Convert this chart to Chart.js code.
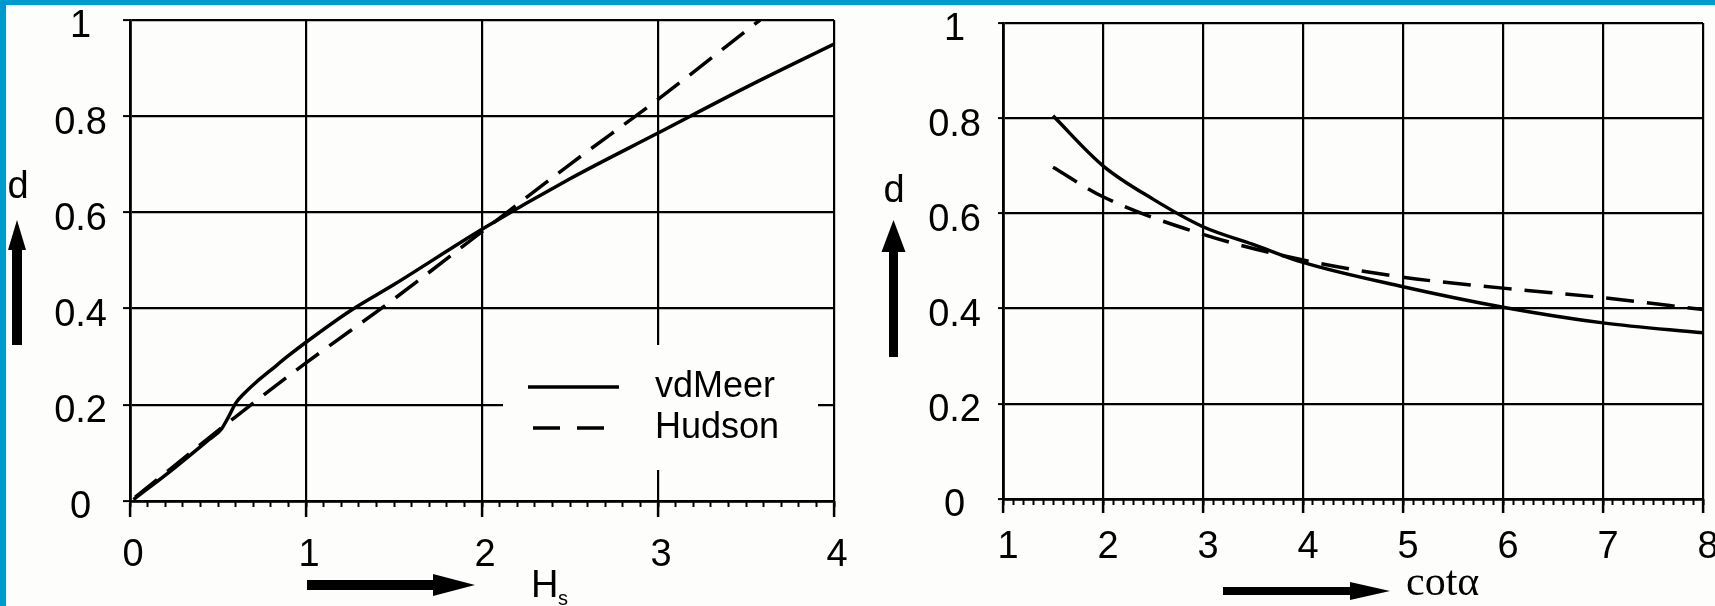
<!DOCTYPE html>
<html>
<head>
<meta charset="utf-8">
<script src="https://cdn.jsdelivr.net/npm/chart.js@4.4.1/dist/chart.umd.min.js"></script>
<style>
  html, body { margin: 0; padding: 0; }
  body { width: 1715px; height: 606px; background: #fdfdfb; position: relative; overflow: hidden; }
  .edge-top { position: absolute; left: 0; top: 0; width: 1715px; height: 5px; background: #0099cc; z-index: 2; }
  .edge-left { position: absolute; left: 0; top: 0; width: 6px; height: 606px; background: #0099cc; z-index: 2; }
  #left { position: absolute; left: 0; top: 0; }
  #right { position: absolute; left: 870px; top: 0; }
</style>
</head>
<body>
<div class="edge-top"></div>
<div class="edge-left"></div>
<canvas id="left" width="870" height="606"></canvas>
<canvas id="right" width="845" height="606"></canvas>
<script>

// Data

// left panel: d against Hs
const hsVdMeer  = [0.02, 0.25, 0.45, 0.52, 0.56, 0.6, 0.65, 0.72, 0.8, 0.9, 1.0, 1.25, 1.5, 2.0, 2.5, 3.0, 3.5, 4.0];
const dVdMeerHs = [0.003, 0.068, 0.128, 0.15, 0.175, 0.203, 0.224, 0.248, 0.272, 0.302, 0.33, 0.395, 0.45, 0.565, 0.67, 0.765, 0.86, 0.95];
const hsHudson  = [0.03, 0.6, 1.0, 1.5, 2.0, 2.5, 3.0, 3.58];
const dHudsonHs = [0.008, 0.175, 0.287, 0.42, 0.56, 0.70, 0.835, 1.0];

// right panel: d against cot(alpha)
const cotVdMeer  = [1.5, 2, 2.5, 3, 3.5, 4, 5, 6, 7, 8];
const dVdMeerCot = [0.805, 0.70, 0.63, 0.572, 0.535, 0.497, 0.446, 0.403, 0.37, 0.349];
const cotHudson  = [1.5, 2, 3, 4, 5, 6, 7, 8];
const dHudsonCot = [0.697, 0.635, 0.556, 0.502, 0.466, 0.443, 0.423, 0.398];

// tick labels
const hsTicks  = [0, 1, 2, 3, 4];
const cotTicks = [1, 2, 3, 4, 5, 6, 7, 8];
const dTicks   = [0, 0.2, 0.4, 0.6, 0.8, 1];
const dTickLabels = ["0", "0.2", "0.4", "0.6", "0.8", "1"];

const seriesNames = ["vdMeer", "Hudson"];

const SANS = "'Liberation Sans', Arial, sans-serif";
const SERIF = "'Liberation Serif', 'Times New Roman', serif";

const pairs = (xs, ys) => xs.map((x, i) => ({ x: x, y: ys[i] }));


// Legend box drawn inside the plot (left panel only)

const legendBox = {
    id: "legendBox",
    beforeDatasetsDraw(chart, args, opts) {
        if (!opts.show) return;
        const ctx = chart.ctx;
        ctx.save();
        ctx.fillStyle = "#fdfdfb";
        ctx.fillRect(503, 345, 315, 125);
        chart.data.datasets.forEach((ds, i) => {
            const y = 387 + i * 41;
            ctx.strokeStyle = ds.borderColor;
            ctx.lineWidth = ds.borderWidth;
            ctx.setLineDash(ds.borderDash ? [27, 17] : []);
            ctx.beginPath();
            ctx.moveTo(i ? 533 : 528, y);
            ctx.lineTo(i ? 609 : 619, y);
            ctx.stroke();
            ctx.setLineDash([]);
            ctx.fillStyle = "#000";
            ctx.font = "36px " + SANS;
            ctx.textBaseline = "middle";
            ctx.fillText(ds.label, 655, y);
        });
        ctx.restore();
    }
};


// Fat arrows + axis names outside the plot

function arrow(ctx, x1, y1, x2, y2, shaft, headLen, headW) {
    const ang = Math.atan2(y2 - y1, x2 - x1);
    const len = Math.hypot(x2 - x1, y2 - y1);
    ctx.save();
    ctx.translate(x1, y1);
    ctx.rotate(ang);
    ctx.fillStyle = "#000";
    ctx.fillRect(0, -shaft / 2, len - headLen + 1, shaft);
    ctx.beginPath();
    ctx.moveTo(len - headLen, -headW / 2);
    ctx.lineTo(len, 0);
    ctx.lineTo(len - headLen, headW / 2);
    ctx.closePath();
    ctx.fill();
    ctx.restore();
}

const axisArrows = {
    id: "axisArrows",
    afterDraw(chart, args, o) {
        const ctx = chart.ctx;
        arrow(ctx, o.yArrow[0], o.yArrow[1], o.yArrow[0], o.yArrow[2], o.yArrow[3], o.yArrow[4], o.yArrow[5]);
        arrow(ctx, o.xArrow[0], o.xArrow[2], o.xArrow[1], o.xArrow[2], o.xArrow[3], o.xArrow[4], o.xArrow[5]);
        ctx.save();
        ctx.fillStyle = "#000";
        ctx.textBaseline = "alphabetic";
        ctx.font = "38px " + SANS;
        ctx.textAlign = "center";
        ctx.fillText("d", o.dPos[0], o.dPos[1]);
        ctx.textAlign = "left";
        if (o.hs) {
            ctx.fillText("H", o.hs[0], o.hs[1]);
            ctx.font = "20px " + SANS;
            ctx.fillText("s", o.hs[0] + 27, o.hs[1] + 8);
        }
        if (o.cot) {
            ctx.font = "42px " + SERIF;
            ctx.fillText("cotα", o.cot[0], o.cot[1]);
        }
        ctx.restore();
    }
};


function makeChart(canvas, c) {
    return new Chart(canvas, {
        type: "scatter",
        data: {
            datasets: [
                {
                    label: seriesNames[0],
                    data: c.solid,
                    xAxisID: "x",
                    showLine: true,
                    borderColor: "#000",
                    borderWidth: 3.5,
                    pointRadius: 0,
                    cubicInterpolationMode: "monotone",
                },
                {
                    label: seriesNames[1],
                    data: c.dashed,
                    xAxisID: "x",
                    showLine: true,
                    borderColor: "#000",
                    borderWidth: 3.5,
                    borderDash: [28, 13],
                    pointRadius: 0,
                    cubicInterpolationMode: "monotone",
                },
            ]
        },
        options: {
            responsive: false,
            animation: false,
            events: [],
            layout: {
                autoPadding: false,
                padding: { top: c.top, right: c.right, left: 0, bottom: 0 }
            },
            plugins: {
                legend: { display: false },
                tooltip: { enabled: false },
                legendBox: { show: c.legend },
                axisArrows: c.arrows,
            },
            scales: {
                x: {
                    type: "linear",
                    min: c.xTicks[0],
                    max: c.xTicks[c.xTicks.length - 1],
                    afterBuildTicks: s => { s.ticks = c.xTicks.map(v => ({ value: v })); },
                    afterFit: s => { s.height = c.xAxisHeight; s.paddingLeft = 0; s.paddingRight = 0; },
                    grid: { color: "#000", lineWidth: 2.2, tickLength: c.majorTick, tickWidth: 2.5, tickColor: "#000" },
                    border: { color: "#000", width: 2.8 },
                    ticks: {
                        color: "#000",
                        font: { family: SANS, size: 38 },
                        padding: c.xPad,
                        labelOffset: c.xOff,
                        maxRotation: 0,
                        autoSkip: false,
                        callback: (v, i) => String(c.xTicks[i]),
                    }
                },
                xMinor: {
                    type: "linear",
                    axis: "x",
                    position: { y: 0 },
                    min: c.xTicks[0],
                    max: c.xTicks[c.xTicks.length - 1],
                    ticks: { display: false, stepSize: 0.1, autoSkip: false },
                    grid: { drawOnChartArea: false, tickLength: 6, tickWidth: 2, tickColor: "#000" },
                    border: { display: false },
                },
                y: {
                    type: "linear",
                    min: 0,
                    max: 1,
                    afterBuildTicks: s => { s.ticks = dTicks.map(v => ({ value: v })); },
                    afterFit: s => { s.width = c.yAxisWidth; s.paddingTop = 0; s.paddingBottom = 0; },
                    grid: { color: "#000", lineWidth: 2.2, tickLength: c.yTick, tickWidth: 2, tickColor: "#000" },
                    border: { color: "#000", width: 2.8 },
                    ticks: {
                        color: "#000",
                        font: { family: SANS, size: 38 },
                        crossAlign: "center",
                        padding: c.yPad,
                        labelOffset: 7,
                        callback: (v, i) => dTickLabels[i],
                    }
                }
            }
        },
        plugins: [legendBox, axisArrows]
    });
}


// Left: d vs Hs

makeChart(document.querySelector("#left"), {
    solid: pairs(hsVdMeer, dVdMeerHs),
    dashed: pairs(hsHudson, dHudsonHs),
    xTicks: hsTicks,
    top: 20, right: 36,
    xAxisHeight: 105, yAxisWidth: 130,
    majorTick: 16, yTick: 7,
    xPad: 16, xOff: 3, yPad: 16,
    legend: true,
    arrows: {
        yArrow: [17, 345, 220, 10, 30, 18],
        xArrow: [307, 475, 585, 10, 42, 22],
        dPos: [18, 198],
        hs: [531, 597],
    }
})


// Right: d vs cot(alpha)

makeChart(document.querySelector("#right"), {
    solid: pairs(cotVdMeer, dVdMeerCot),
    dashed: pairs(cotHudson, dHudsonCot),
    xTicks: cotTicks,
    top: 23, right: 12,
    xAxisHeight: 107, yAxisWidth: 133,
    majorTick: 14, yTick: 5,
    xPad: 12, xOff: 5, yPad: 17,
    legend: false,
    arrows: {
        yArrow: [23.5, 357, 220, 9, 32, 24],
        xArrow: [353, 520, 591, 8, 40, 18],
        dPos: [24, 202],
        cot: [536, 595],
    }
})

</script>
</body>
</html>
